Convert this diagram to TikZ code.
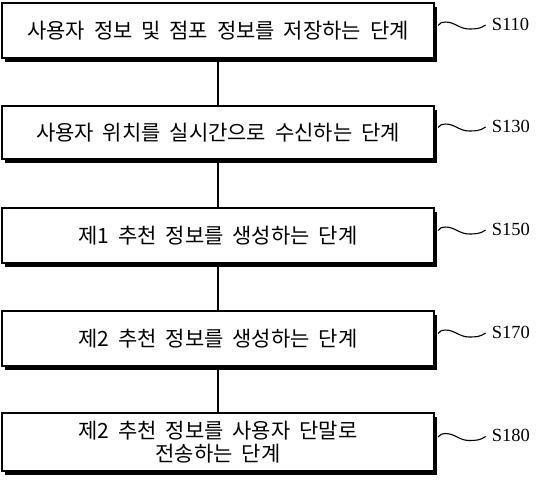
\documentclass[tikz,border=0pt]{standalone}
\usepackage{fontspec}
\newfontfamily\kr{Noto Sans CJK KR}
\setmainfont{Liberation Serif}
\usetikzlibrary{shadows}
\newcommand\krsp{\spaceskip=0.42em\relax}
\begin{document}
\begin{tikzpicture}[x=1pt,y=1pt,
  stepbox/.style={draw=black, line width=1.3pt, fill=white, minimum width=432pt,
    inner sep=0pt, align=center, font=\kr\fontsize{21}{23}\selectfont,
    drop shadow={shadow xshift=3pt, shadow yshift=-3.5pt, fill=black, opacity=1}},
  steplabel/.style={inner sep=0pt, anchor=west, font=\fontsize{18.5}{20}\selectfont},
  link/.style={line width=1.3pt},
  squig/.style={line width=1.1pt}]
\useasboundingbox (0,0) rectangle (544,-480);
\node[stepbox, minimum height=55pt] (b1) at (218,-30.5) {\krsp 사용자 정보 및 점포 정보를 저장하는 단계};
\node[stepbox, minimum height=53pt] (b2) at (218,-132.5) {\krsp 사용자 위치를 실시간으로 수신하는 단계};
\node[stepbox, minimum height=55pt] (b3) at (218,-235.5) {\krsp 제1 추천 정보를 생성하는 단계};
\node[stepbox, minimum height=55pt] (b4) at (218,-338.5) {\krsp 제2 추천 정보를 생성하는 단계};
\node[stepbox, minimum height=58pt] (b5) at (218,-442) {\krsp 제2 추천 정보를 사용자 단말로\\\krsp 전송하는 단계};
\draw[link] (b1.south) -- (b2.north);
\draw[link] (b2.south) -- (b3.north);
\draw[link] (b3.south) -- (b4.north);
\draw[link] (b4.south) -- (b5.north);
\foreach \b/\t in {b1/S110,b2/S130,b3/S150,b4/S170,b5/S180}{
  \node[steplabel] (l\b) at ([xshift=57pt,yshift=6.5pt]\b.east) {\t};
  \coordinate (s\b) at ([xshift=3.5pt,yshift=5pt]\b.east);
  \draw[squig] (s\b) to[out=60,in=180] ++(7,3.5) to[out=0,in=180] ++(24,-7) to[out=0,in=215] ([xshift=-6pt,yshift=-1pt]l\b.west);
}
\end{tikzpicture}
\end{document}
